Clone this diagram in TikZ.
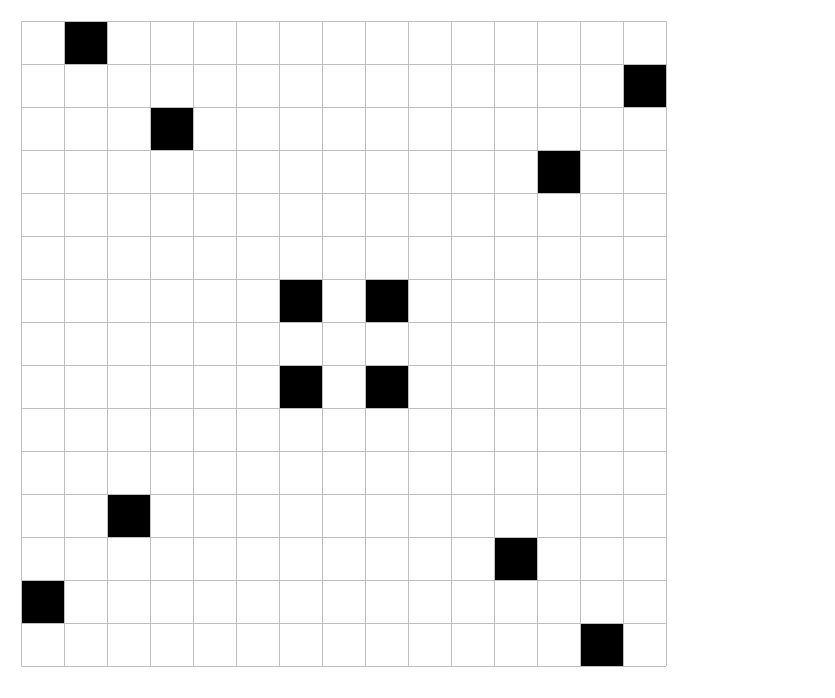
\documentclass[tikz,border=0pt]{standalone}
\begin{document}
\begin{tikzpicture}[x=1pt,y=-1pt,
  gridline/.style={draw=black!25,line width=0.8pt},
  cellfill/.style={fill=black}]
\useasboundingbox (0,0) rectangle (835,698);
\foreach \c/\r in {1/0,14/1,3/2,12/3,6/6,8/6,6/8,8/8,2/11,11/12,0/13,13/14}{
  \fill[cellfill] ({21+43*\c},{21+43*\r}) rectangle ++(43,43);
}
\foreach \i in {0,...,15}{
  \draw[gridline] ({21+43*\i},21) -- ({21+43*\i},666);
  \draw[gridline] (21,{21+43*\i}) -- (666,{21+43*\i});
}
\end{tikzpicture}
\end{document}
